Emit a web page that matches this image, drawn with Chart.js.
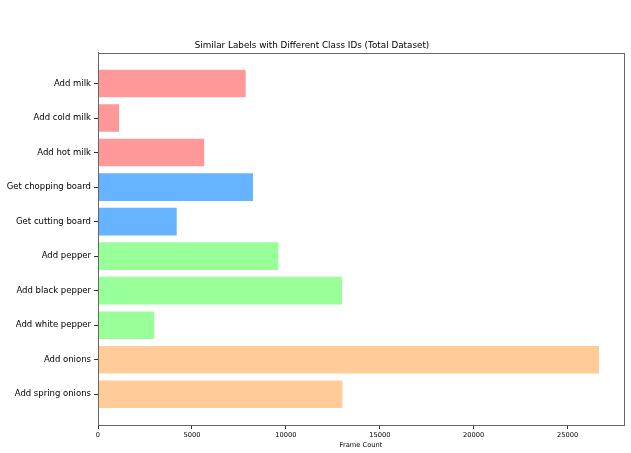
<!DOCTYPE html>
<html>
<head>
<meta charset="utf-8">
<script src="https://cdn.jsdelivr.net/npm/chart.js@4/dist/chart.umd.min.js"></script>
<style>
  html, body { margin: 0; padding: 0; background: #fff; }
  #wrap { width: 631px; height: 453px; }
</style>
</head>
<body>
<div id="wrap"><canvas id="chart"></canvas></div>
<script>
// values
const labels = ['Add milk', 'Add cold milk', 'Add hot milk', 'Get chopping board', 'Get cutting board',
  'Add pepper', 'Add black pepper', 'Add white pepper', 'Add onions', 'Add spring onions'];
const frameCounts = [7860, 1120, 5650, 8250, 4190, 9600, 12990, 2990, 26670, 13010];
const groups = ['milk', 'milk', 'milk', 'board', 'board', 'pepper', 'pepper', 'pepper', 'onions', 'onions'];
const groupColors = { milk: '#ff9999', board: '#66b3ff', pepper: '#99ff99', onions: '#ffcc99' };
const xTicks = [0, 5000, 10000, 15000, 20000, 25000];

const font = 'DejaVu Sans';

// full box around the plot area, like matplotlib spines
const boxPlugin = {
  id: 'box',
  afterDatasetsDraw(chart) {
    const { ctx, chartArea: a } = chart;
    ctx.save();
    ctx.strokeStyle = '#666';
    ctx.lineWidth = 1;
    ctx.strokeRect(Math.round(a.left) + 0.5, Math.round(a.top) + 0.5,
      Math.round(a.right - a.left), Math.round(a.bottom - a.top));
    ctx.restore();
  }
};

new Chart(document.getElementById('chart'), {
  type: 'bar',
  data: {
    datasets: [{
      data: frameCounts.map((v, i) => ({ x: v, y: i })),
      backgroundColor: groups.map(g => groupColors[g]),
      borderWidth: 0,
      barPercentage: 0.8,
      categoryPercentage: 1
    }]
  },
  plugins: [boxPlugin],
  options: {
    indexAxis: 'y',
    responsive: true,
    maintainAspectRatio: false,
    animation: false,
    layout: { padding: { right: 7 } },
    plugins: {
      legend: { display: false },
      tooltip: { enabled: false },
      title: {
        display: true,
        text: 'Similar Labels with Different Class IDs (Total Dataset)',
        color: '#000',
        font: { family: font, size: 8.8, weight: 'normal' },
        padding: { top: 40, bottom: 2.2 }
      }
    },
    scales: {
      x: {
        type: 'linear',
        min: 0,
        max: 28000,
        afterBuildTicks: s => { s.ticks = xTicks.map(v => ({ value: v })); },
        afterFit: s => { s.height = 28; },
        grid: { drawOnChartArea: false, drawTicks: true, tickLength: 4, color: '#333' },
        border: { display: true, color: '#666' },
        ticks: { color: '#000', font: { family: font, size: 6.7 }, padding: 2, maxRotation: 0,
          callback: v => String(v) },
        title: {
          display: true,
          text: 'Frame Count',
          color: '#000',
          font: { family: font, size: 6.7 },
          padding: { top: 0, bottom: 4 }
        }
      },
      y: {
        type: 'linear',
        reverse: true,
        offset: false,
        min: -0.89,
        max: labels.length - 1 + 0.89,
        afterBuildTicks: s => { s.ticks = labels.map((_, i) => ({ value: i })); },
        afterFit: s => { s.width = 98; },
        grid: { offset: false, drawOnChartArea: false, drawTicks: true, tickLength: 4, color: '#333' },
        border: { display: true, color: '#666' },
        ticks: {
          autoSkip: false,
          color: '#000',
          font: { family: font, size: 8.5 },
          padding: 3,
          callback: v => labels[v]
        }
      }
    }
  }
});
</script>
</body>
</html>
